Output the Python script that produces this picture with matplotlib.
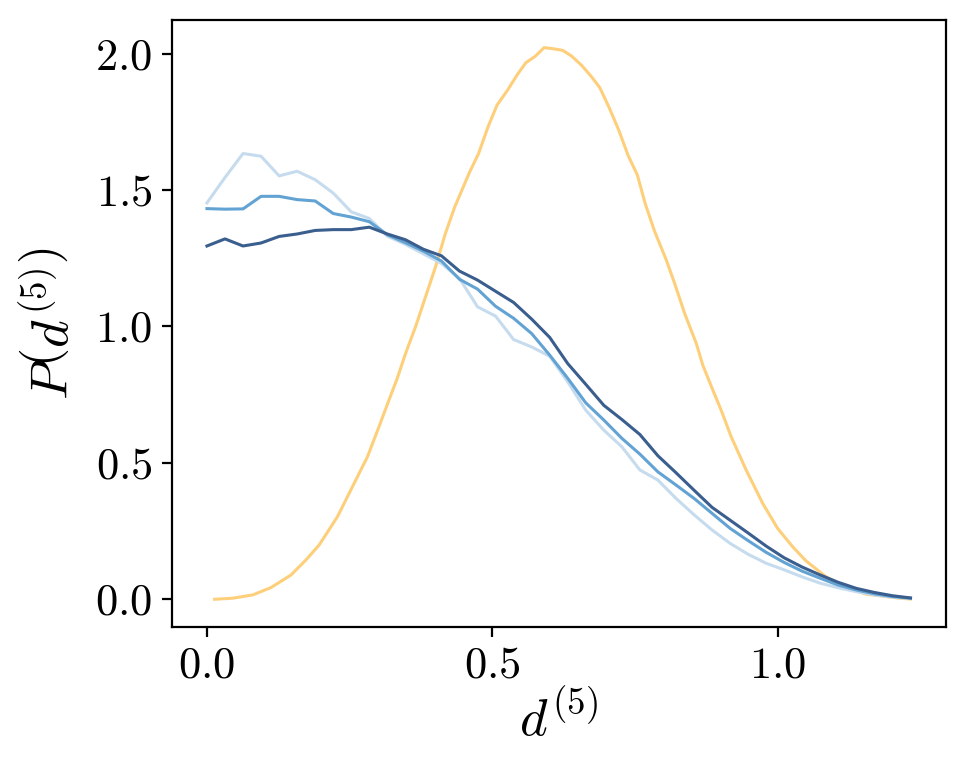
import numpy as np
import matplotlib
matplotlib.use("Agg")
import matplotlib.pyplot as plt

plt.rcParams['font.family'] = 'serif'
plt.rcParams['font.serif'] = ['cmr10']
plt.rcParams['mathtext.fontset'] = 'cm'
plt.rcParams['axes.formatter.use_mathtext'] = True

# blue curves share one grid of 40 bins
d_blue = np.linspace(0.0, 1.232, 40)

p_light = [1.453, 1.546, 1.634, 1.624, 1.552, 1.569, 1.538, 1.489, 1.420, 1.396,
           1.331, 1.301, 1.266, 1.231, 1.176, 1.072, 1.038, 0.952, 0.925, 0.891,
           0.797, 0.693, 0.620, 0.559, 0.474, 0.437, 0.370, 0.310, 0.254, 0.205,
           0.165, 0.132, 0.108, 0.082, 0.059, 0.042, 0.028, 0.016, 0.008, 0.003]

p_mid = [1.432, 1.430, 1.431, 1.477, 1.477, 1.465, 1.460, 1.414, 1.401, 1.384,
         1.336, 1.307, 1.276, 1.240, 1.173, 1.137, 1.074, 1.030, 0.974, 0.895,
         0.810, 0.720, 0.657, 0.590, 0.532, 0.467, 0.419, 0.370, 0.315, 0.260,
         0.215, 0.172, 0.135, 0.103, 0.077, 0.052, 0.034, 0.020, 0.010, 0.004]

p_dark = [1.295, 1.321, 1.295, 1.306, 1.330, 1.339, 1.352, 1.355, 1.355, 1.364,
          1.339, 1.318, 1.283, 1.259, 1.203, 1.170, 1.129, 1.088, 1.027, 0.960,
          0.864, 0.788, 0.711, 0.659, 0.604, 0.526, 0.464, 0.400, 0.337, 0.290,
          0.243, 0.195, 0.152, 0.118, 0.089, 0.062, 0.040, 0.025, 0.013, 0.005]

# orange curve, read point by point
d_orange = [0.0133, 0.0454, 0.0803, 0.1122, 0.1471, 0.1733, 0.1965, 0.2286, 0.2489,
            0.2810, 0.3012, 0.3187, 0.3333, 0.3478, 0.3653, 0.3827, 0.4002, 0.4176,
            0.4339, 0.4600, 0.4757, 0.4921, 0.5079, 0.5264, 0.5428, 0.5585, 0.5747,
            0.5904, 0.6067, 0.6230, 0.6387, 0.6562, 0.6724, 0.6881, 0.7044, 0.7213,
            0.7375, 0.7536, 0.7675, 0.7841, 0.8045, 0.8190, 0.8365, 0.8569, 0.8684,
            0.8859, 0.9005, 0.9180, 0.9442, 0.9731, 0.9993, 1.0255, 1.0489, 1.0838,
            1.1187, 1.1536, 1.2136, 1.2321]
p_orange = [0.000, 0.004, 0.016, 0.043, 0.089, 0.144, 0.199, 0.303, 0.388,
            0.522, 0.632, 0.730, 0.810, 0.901, 0.999, 1.108, 1.218, 1.341,
            1.438, 1.566, 1.634, 1.731, 1.811, 1.866, 1.921, 1.967, 1.990,
            2.022, 2.018, 2.012, 1.991, 1.957, 1.918, 1.875, 1.802, 1.719,
            1.627, 1.556, 1.450, 1.348, 1.243, 1.158, 1.048, 0.938, 0.858,
            0.767, 0.693, 0.596, 0.474, 0.352, 0.260, 0.193, 0.141, 0.083,
            0.044, 0.019, 0.004, 0.001]

fig = plt.figure(figsize=(4.825, 3.86), dpi=200)
ax = fig.add_axes([0.178, 0.188, 0.802, 0.786])

lw = 1.1
ax.plot(d_orange, p_orange, color='#fecf7a', lw=lw)
ax.plot(d_blue, p_light, color='#c6dcee', lw=lw)
ax.plot(d_blue, p_mid, color='#63a3d3', lw=lw)
ax.plot(d_blue, p_dark, color='#3a5e8e', lw=lw)

ax.set_xticks([0.0, 0.5, 1.0])
ax.set_yticks([0.0, 0.5, 1.0, 1.5, 2.0])
ax.tick_params(labelsize=16)
ax.set_xlabel(r'$d^{(5)}$', fontsize=19, labelpad=2)
ax.set_ylabel(r'$P\left(d^{(5)}\right)$', fontsize=19, labelpad=6)

fig.savefig('out.png', dpi=200)
